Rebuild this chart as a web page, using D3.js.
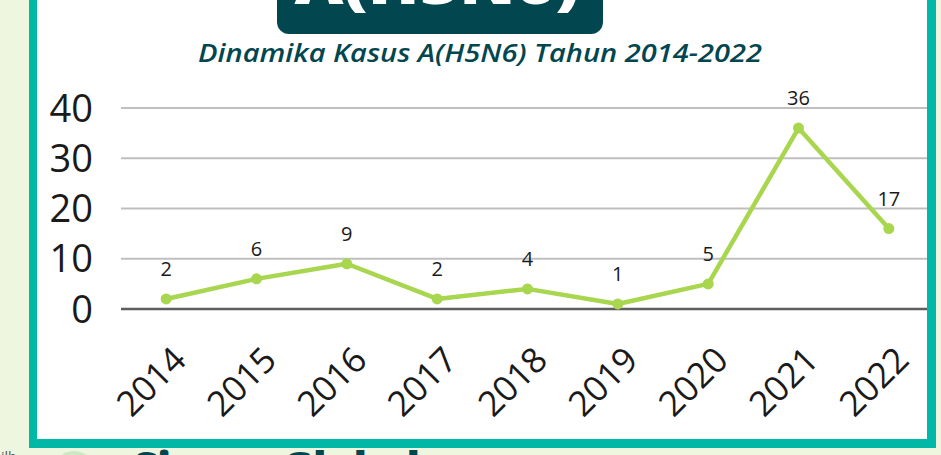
<!DOCTYPE html>
<html>
<head>
<meta charset="utf-8">
<script src="https://cdn.jsdelivr.net/npm/d3@7"></script>
<style>
  html, body { margin: 0; padding: 0; background: #EEF6E0; }
  svg { display: block; }
</style>
</head>
<body>
<div id="chart"></div>
<script>
// Kasus A(H5N6) per tahun
const years = ["2014", "2015", "2016", "2017", "2018", "2019", "2020", "2021", "2022"];
const cases = [2, 6, 9, 2, 4, 1, 5, 36, 16];          // posisi titik seperti di gambar
const caseLabels = ["2", "6", "9", "2", "4", "1", "5", "36", "17"]; // label data tertulis
const yTicks = [0, 10, 20, 30, 40];

const W = 941, H = 455;
const C = {
    bg: "#EEF6E0",
    teal: "#00B8A5",
    dark: "#02464F",
    line: "#A8D64E",
    grid: "#BFBFBF",
    axis: "#5E5E5E",
    text: "#1A1A1A"
};

const svg = d3.select("#chart").append("svg")
    .attr("width", W).attr("height", H);

// frame
svg.append("rect").attr("width", W).attr("height", H).attr("fill", C.bg);
svg.append("rect")
    .attr("x", 29).attr("y", -20).attr("width", 907).attr("height", 468)
    .attr("fill", C.teal);
svg.append("rect")
    .attr("x", 37).attr("y", -20).attr("width", 890).attr("height", 459)
    .attr("fill", "#fff");

// title box (cut at top)
svg.append("rect")
    .attr("x", 277).attr("y", -30).attr("width", 326).attr("height", 64)
    .attr("rx", 12).attr("fill", C.dark);
svg.append("text")
    .attr("x", 437).attr("y", 4)
    .attr("text-anchor", "middle")
    .attr("font-family", "'Open Sans', sans-serif")
    .attr("font-weight", 800)
    .attr("font-size", 56)
    .attr("fill", "#fff")
    .attr("textLength", 285).attr("lengthAdjust", "spacingAndGlyphs")
    .text("A(H5N6)");

// subtitle
svg.append("text")
    .attr("x", 480).attr("y", 62)
    .attr("text-anchor", "middle")
    .attr("font-family", "'Open Sans', sans-serif")
    .attr("font-style", "italic")
    .attr("font-weight", 600)
    .attr("font-size", 26)
    .attr("fill", C.dark)
    .attr("textLength", 564).attr("lengthAdjust", "spacingAndGlyphs")
    .text("Dinamika Kasus A(H5N6) Tahun 2014-2022");

// bottom strip (cut off)
svg.append("text")
    .attr("x", 1).attr("y", 462)
    .attr("font-family", "'Open Sans', sans-serif")
    .attr("font-size", 14)
    .attr("fill", "#555")
    .text("ilb");
svg.append("circle")
    .attr("cx", 74).attr("cy", 472).attr("r", 21)
    .attr("fill", "#CDE9C4");
svg.append("text")
    .attr("x", 133).attr("y", 482)
    .attr("font-family", "'Open Sans', sans-serif")
    .attr("font-weight", 800)
    .attr("font-size", 42)
    .attr("fill", C.dark)
    .text("Siaran Global");

// scales
const x = d3.scaleBand().domain(years).range([121, 934]);
const y = d3.scaleLinear().domain([0, 40]).range([309, 108]);
const cx = d => x(d) + x.bandwidth() / 2;

const plot = svg.append("g");

// gridlines
plot.append("g").selectAll("line")
    .data(yTicks.filter(t => t !== 0))
    .join("line")
    .attr("x1", 121).attr("x2", 927)
    .attr("y1", d => y(d)).attr("y2", d => y(d))
    .attr("stroke", C.grid).attr("stroke-width", 2);

// y labels
plot.append("g").selectAll("text")
    .data(yTicks)
    .join("text")
    .attr("x", 93).attr("y", d => y(d))
    .attr("dy", "0.36em")
    .attr("text-anchor", "end")
    .attr("font-family", "'Open Sans', sans-serif")
    .attr("font-size", 38)
    .attr("fill", C.text)
    .text(d => d);

// x axis line
plot.append("line")
    .attr("x1", 121).attr("x2", 927)
    .attr("y1", y(0)).attr("y2", y(0))
    .attr("stroke", C.axis).attr("stroke-width", 2.5);

// x labels rotated
plot.append("g").selectAll("text")
    .data(years)
    .join("text")
    .attr("transform", d => `translate(${cx(d) + 22},${362}) rotate(-45)`)
    .attr("text-anchor", "end")
    .attr("font-family", "'Open Sans', sans-serif")
    .attr("font-size", 35)
    .attr("fill", C.text)
    .text(d => d);

// line
const pts = years.map((yr, i) => ({ yr, v: cases[i], label: caseLabels[i] }));

plot.append("path")
    .datum(pts)
    .attr("fill", "none")
    .attr("stroke", C.line)
    .attr("stroke-width", 4.5)
    .attr("stroke-linejoin", "round")
    .attr("d", d3.line().x(d => cx(d.yr)).y(d => y(d.v)));

plot.append("g").selectAll("circle")
    .data(pts)
    .join("circle")
    .attr("cx", d => cx(d.yr)).attr("cy", d => y(d.v))
    .attr("r", 5.5)
    .attr("fill", C.line);

// data labels
plot.append("g").selectAll("text")
    .data(pts)
    .join("text")
    .attr("x", d => cx(d.yr))
    .attr("y", d => y(d.v) - 30)
    .attr("dy", "0.36em")
    .attr("text-anchor", "middle")
    .attr("font-family", "'Open Sans', sans-serif")
    .attr("font-size", 20)
    .attr("fill", C.text)
    .text(d => d.label);
</script>
</body>
</html>
